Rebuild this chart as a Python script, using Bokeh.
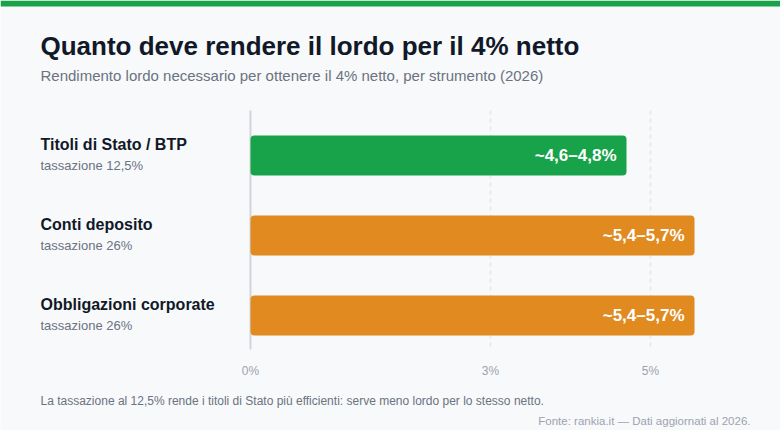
from bokeh.plotting import figure
from bokeh.models import Range1d
from bokeh.core.properties import value
from bokeh.embed import file_html
from bokeh.resources import INLINE

# --- data -------------------------------------------------------------
CATEGORIES = ["Titoli di Stato / BTP", "Conti deposito", "Obbligazioni corporate"]
TAX_NOTES = ["tassazione 12,5%", "tassazione 26%", "tassazione 26%"]
GROSS_LOW = [4.6, 5.4, 5.4]     # % lordo, estremo inferiore
GROSS_HIGH = [4.8, 5.7, 5.7]    # % lordo, estremo superiore
BAR_COLORS = ["#18a34a", "#e08a1f", "#e08a1f"]
TICKS = [0, 3, 5]
TICK_LABELS = ["0%", "3%", "5%"]

TITLE = "Quanto deve rendere il lordo per il 4% netto"
SUBTITLE = "Rendimento lordo necessario per ottenere il 4% netto, per strumento (2026)"
NOTE = ("La tassazione al 12,5% rende i titoli di Stato più efficienti: "
        "serve meno lordo per lo stesso netto.")
SOURCE = "Fonte: rankia.it \u2014 Dati aggiornati al 2026."

# --- layout ------------------------------------------------------------
W, H = 780, 430
X0_PX = 250          # where 0% sits
PX_PER_PCT = 80      # horizontal scale
FONT = value("Liberation Sans")
BG = "#f7f9fb"


def xd(px):
    """Canvas x pixel -> value on the % axis."""
    return (px - X0_PX) / PX_PER_PCT


mid = [(lo + hi) / 2 for lo, hi in zip(GROSS_LOW, GROSS_HIGH)]
labels = [f"~{lo:.1f}\u2013{hi:.1f}%".replace(".", ",")
          for lo, hi in zip(GROSS_LOW, GROSS_HIGH)]
rows = [155 + 80 * i for i in range(len(CATEGORIES))]

p = figure(width=W, height=H, output_backend="svg", toolbar_location=None,
           x_range=Range1d(xd(0), xd(W)), y_range=Range1d(H, 0),
           x_axis_location=None, y_axis_location=None,
           min_border=0, background_fill_color=BG, border_fill_color=BG,
           outline_line_color=None)
p.grid.visible = False

# top accent stripe
p.quad(left=[xd(0)], right=[xd(W)], top=[0], bottom=[6],
       fill_color="#18a34a", line_color=None)

# title block
p.text(x=[xd(40)], y=[45], text=[TITLE], text_font=FONT, text_font_size="26px",
       text_font_style="bold", text_color="#111827", text_baseline="middle")
p.text(x=[xd(40)], y=[75], text=[SUBTITLE], text_font=FONT, text_font_size="15px",
       text_color="#6b7280", text_baseline="middle")

# dashed guides and baseline
p.segment(x0=TICKS[1:], x1=TICKS[1:], y0=110, y1=349,
          line_color="#e5e7eb", line_width=1.5, line_dash="4 4")
p.segment(x0=[TICKS[0]], x1=[TICKS[0]], y0=110, y1=349,
          line_color="#d1d5db", line_width=2)

# bars
p.hbar(y=rows, left=0, right=mid, height=40, fill_color=BAR_COLORS,
       line_color=None, border_radius=4)

# value labels inside the bars
p.text(x=mid, y=rows, text=labels, x_offset=-10, text_align="right",
       text_baseline="middle", text_font=FONT, text_font_size="17px",
       text_font_style="bold", text_color="white")

# category names and tax notes
p.text(x=[xd(40)] * 3, y=[r - 11 for r in rows], text=CATEGORIES, text_font=FONT,
       text_font_size="16px", text_font_style="bold", text_color="#111827",
       text_baseline="middle")
p.text(x=[xd(40)] * 3, y=[r + 10 for r in rows], text=TAX_NOTES, text_font=FONT,
       text_font_size="13px", text_color="#6b7280", text_baseline="middle")

# tick labels
p.text(x=TICKS, y=[370] * len(TICKS), text=TICK_LABELS, text_font=FONT,
       text_font_size="12px", text_color="#9ca3af", text_align="center",
       text_baseline="middle")

# footer
p.text(x=[xd(40)], y=[400], text=[NOTE], text_font=FONT, text_font_size="12px",
       text_color="#6b7280", text_baseline="middle")
p.text(x=[xd(750)], y=[420], text=[SOURCE], text_font=FONT, text_font_size="11.5px",
       text_color="#9ca3af", text_align="right", text_baseline="middle")

with open("out.html", "w") as f:
    f.write(file_html(p, INLINE))
